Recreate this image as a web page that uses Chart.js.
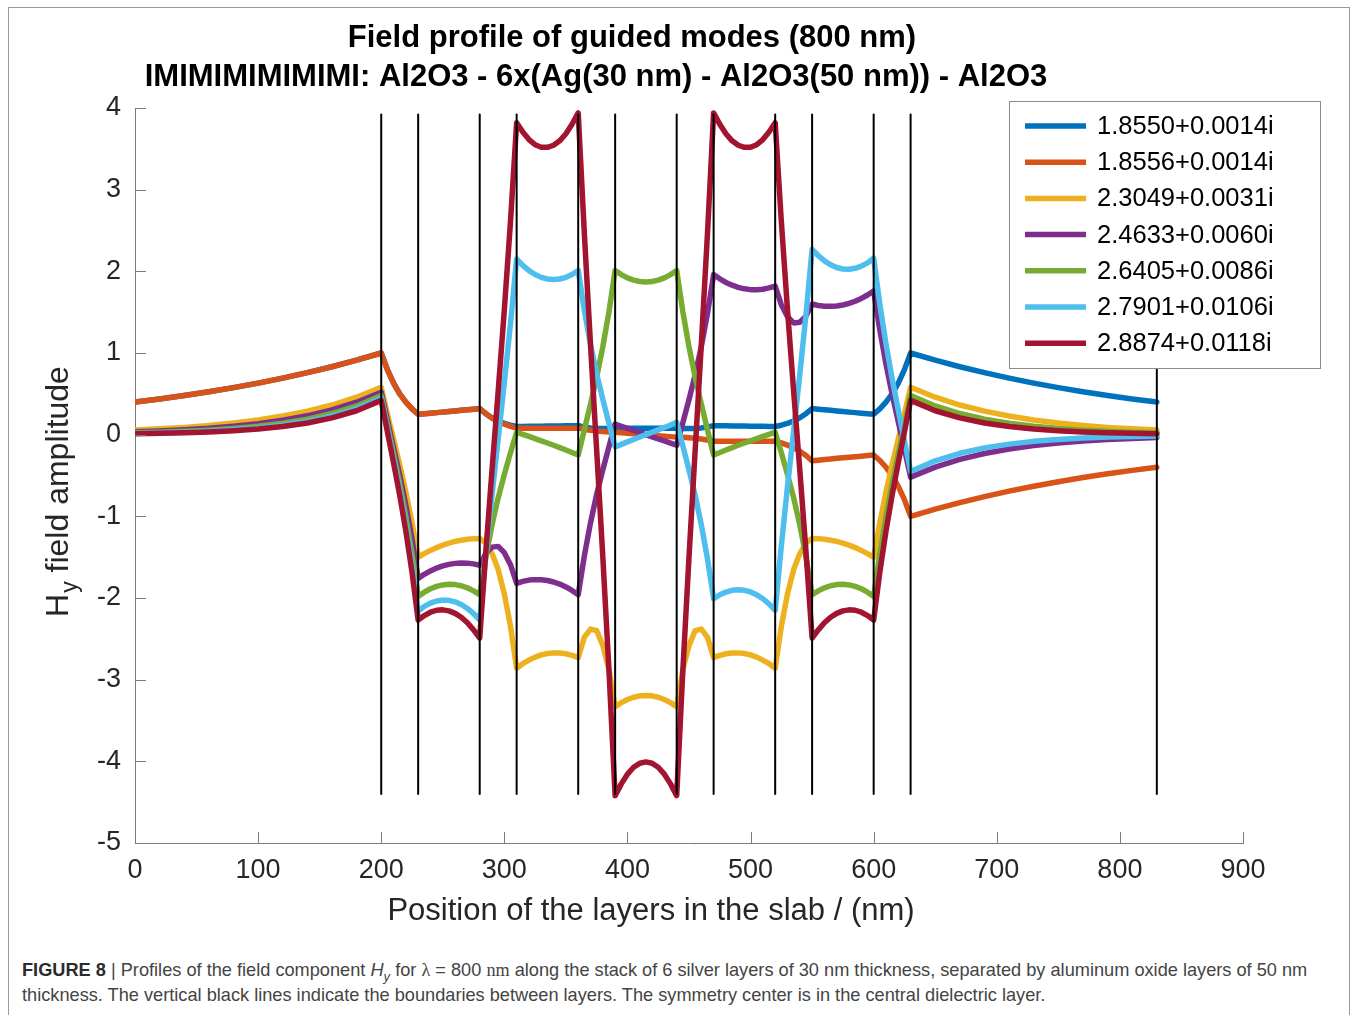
<!DOCTYPE html>
<html>
<head>
<meta charset="utf-8">
<title>Field profile of guided modes (800 nm)</title>
<script src="https://cdn.jsdelivr.net/npm/chart.js@4.4.1/dist/chart.umd.min.js"></script>
<style>
  html, body { margin: 0; padding: 0; background: #fff; }
  #figure { position: relative; width: 1357px; height: 1015px; overflow: hidden; background: #fff; }
  #frame { position: absolute; left: 8px; top: 7px; width: 1342px; height: 1100px; border: 1px solid #9a9a9a; box-sizing: border-box; }
  #plot { position: absolute; left: 0; top: 0; }
  #caption {
    position: absolute; left: 22px; top: 958px; width: 1330px;
    font-family: "Liberation Sans", Arial, sans-serif; font-size: 18.2px; line-height: 25px;
    color: #444; white-space: nowrap;
  }
  #caption b { color: #2b2b2b; }
  #caption .math { font-family: "Liberation Serif", "DejaVu Serif", serif; }
  #caption sub { font-size: 13px; line-height: 0; }
</style>
</head>
<body>
<div id="figure">
  <div id="frame"></div>
  <canvas id="plot" width="1357" height="940"></canvas>
  <div id="caption"><b>FIGURE 8</b> | Profiles of the field component <i>H<sub>y</sub></i> for <span class="math">λ</span> = 800 <span class="math">nm</span> along the stack of 6 silver layers of 30 nm thickness, separated by aluminum oxide layers of 50 nm<br>thickness. The vertical black lines indicate the boundaries between layers. The symmetry center is in the central dielectric layer.</div>
</div>
<script>
const FONT = '"Liberation Sans", Arial, Helvetica, sans-serif';
const AXIS_COLOR = '#7a7a7a';
const TEXT_COLOR = '#262626';

const titleLines = [
  'Field profile of guided modes (800 nm)',
  'IMIMIMIMIMIMI: Al2O3 - 6x(Ag(30 nm) - Al2O3(50 nm)) - Al2O3'
];
const xTitle = 'Position of the layers in the slab / (nm)';

// effective indices of the guided modes (legend)
const modeLabels = [
  '1.8550+0.0014i', '1.8556+0.0014i', '2.3049+0.0031i', '2.4633+0.0060i',
  '2.6405+0.0086i', '2.7901+0.0106i', '2.8874+0.0118i'
];
const modeColors = ['#0072BD', '#D95319', '#EDB120', '#7E2F8E', '#77AC30', '#4DBEEE', '#A2142F'];

// layer interfaces (nm) and the extent of the marker lines
const interfaces = [200, 230, 280, 310, 360, 390, 440, 470, 520, 550, 600, 630, 830];
const interfaceSpan = [-4.4, 3.92];

// sample positions along the stack (nm)
const positions = [
  0, 20, 40, 60, 80, 100, 120, 140, 160, 180,
  200, 205, 210, 215, 220, 225,
  230, 235, 240, 245, 250, 255, 260, 265, 270, 275,
  280, 285, 290, 295, 300, 305,
  310, 315, 320, 325, 330, 335, 340, 345, 350, 355,
  360, 365, 370, 375, 380, 385,
  390, 395, 400, 405, 410, 415, 420, 425, 430, 435,
  440, 445, 450, 455, 460, 465,
  470, 475, 480, 485, 490, 495, 500, 505, 510, 515,
  520, 525, 530, 535, 540, 545,
  550, 555, 560, 565, 570, 575, 580, 585, 590, 595,
  600, 605, 610, 615, 620, 625,
  630, 650, 670, 690, 710, 730, 750, 770, 790, 810, 830
];

// Hy amplitude of each mode at the sample positions
const hyMode1 = [
  0.399, 0.437, 0.479, 0.525, 0.576, 0.631, 0.692, 0.759, 0.832, 0.912,
  1.000, 0.796, 0.632, 0.500, 0.399, 0.316,
  0.250, 0.256, 0.263, 0.270, 0.276, 0.283, 0.290, 0.298, 0.305, 0.312,
  0.320, 0.257, 0.207, 0.168, 0.139, 0.116,
  0.100, 0.101, 0.102, 0.103, 0.104, 0.105, 0.106, 0.107, 0.108, 0.109,
  0.110, 0.094, 0.083, 0.076, 0.074, 0.075,
  0.080, 0.080, 0.080, 0.080, 0.080, 0.080, 0.080, 0.080, 0.080, 0.080,
  0.080, 0.075, 0.074, 0.076, 0.083, 0.094,
  0.110, 0.109, 0.108, 0.107, 0.106, 0.105, 0.104, 0.103, 0.102, 0.101,
  0.100, 0.116, 0.139, 0.168, 0.207, 0.257,
  0.320, 0.312, 0.305, 0.298, 0.290, 0.283, 0.276, 0.270, 0.263, 0.256,
  0.250, 0.316, 0.399, 0.500, 0.632, 0.796,
  1.000, 0.912, 0.832, 0.759, 0.692, 0.631, 0.576, 0.525, 0.479, 0.437, 0.399
];
const hyMode2 = [
  0.399, 0.437, 0.479, 0.525, 0.576, 0.631, 0.692, 0.759, 0.832, 0.912,
  1.000, 0.796, 0.632, 0.500, 0.399, 0.316,
  0.250, 0.256, 0.263, 0.270, 0.276, 0.283, 0.290, 0.298, 0.305, 0.312,
  0.320, 0.255, 0.202, 0.160, 0.128, 0.101,
  0.080, 0.080, 0.080, 0.080, 0.080, 0.080, 0.080, 0.080, 0.080, 0.080,
  0.080, 0.065, 0.053, 0.044, 0.038, 0.033,
  0.030, 0.024, 0.018, 0.012, 0.006, 0.000, -0.006, -0.012, -0.018, -0.024,
  -0.030, -0.033, -0.038, -0.044, -0.053, -0.065,
  -0.080, -0.080, -0.080, -0.080, -0.080, -0.080, -0.080, -0.080, -0.080, -0.080,
  -0.080, -0.101, -0.128, -0.160, -0.202, -0.255,
  -0.320, -0.312, -0.305, -0.298, -0.290, -0.283, -0.276, -0.270, -0.263, -0.256,
  -0.250, -0.316, -0.399, -0.500, -0.632, -0.796,
  -1.000, -0.912, -0.832, -0.759, -0.692, -0.631, -0.576, -0.525, -0.479, -0.437, -0.399
];
const hyMode3 = [
  0.056, 0.071, 0.089, 0.113, 0.143, 0.180, 0.228, 0.288, 0.363, 0.459,
  0.580, 0.256, -0.056, -0.368, -0.703, -1.075,
  -1.500, -1.456, -1.417, -1.383, -1.353, -1.328, -1.307, -1.292, -1.280, -1.273,
  -1.270, -1.329, -1.456, -1.652, -1.950, -2.347,
  -2.860, -2.805, -2.761, -2.724, -2.697, -2.680, -2.672, -2.673, -2.683, -2.702,
  -2.730, -2.480, -2.380, -2.400, -2.580, -2.880,
  -3.330, -3.281, -3.243, -3.215, -3.198, -3.193, -3.198, -3.215, -3.243, -3.281,
  -3.330, -2.880, -2.580, -2.400, -2.380, -2.480,
  -2.730, -2.702, -2.683, -2.673, -2.672, -2.680, -2.697, -2.724, -2.761, -2.805,
  -2.860, -2.347, -1.950, -1.652, -1.456, -1.329,
  -1.270, -1.273, -1.280, -1.292, -1.307, -1.328, -1.353, -1.383, -1.417, -1.456,
  -1.500, -1.075, -0.703, -0.368, -0.056, 0.256,
  0.580, 0.459, 0.363, 0.288, 0.228, 0.180, 0.143, 0.113, 0.089, 0.071, 0.056
];
const hyMode4 = [
  0.035, 0.046, 0.060, 0.078, 0.103, 0.134, 0.176, 0.231, 0.303, 0.397,
  0.520, 0.178, -0.157, -0.496, -0.866, -1.281,
  -1.760, -1.710, -1.668, -1.634, -1.607, -1.588, -1.576, -1.571, -1.573, -1.582,
  -1.600, -1.452, -1.377, -1.368, -1.445, -1.592,
  -1.820, -1.797, -1.781, -1.775, -1.776, -1.786, -1.804, -1.830, -1.864, -1.908,
  -1.960, -1.483, -1.080, -0.732, -0.430, -0.146,
  0.130, 0.103, 0.077, 0.051, 0.026, 0.000, -0.026, -0.051, -0.077, -0.103,
  -0.130, 0.146, 0.430, 0.732, 1.080, 1.483,
  1.960, 1.908, 1.864, 1.830, 1.804, 1.786, 1.776, 1.775, 1.781, 1.797,
  1.820, 1.592, 1.445, 1.368, 1.377, 1.452,
  1.600, 1.582, 1.573, 1.571, 1.576, 1.588, 1.607, 1.634, 1.668, 1.710,
  1.760, 1.281, 0.866, 0.496, 0.157, -0.178,
  -0.520, -0.397, -0.303, -0.231, -0.176, -0.134, -0.103, -0.078, -0.060, -0.046, -0.035
];
const hyMode5 = [
  0.022, 0.030, 0.041, 0.055, 0.075, 0.102, 0.139, 0.190, 0.259, 0.352,
  0.480, 0.120, -0.236, -0.600, -1.001, -1.455,
  -1.980, -1.929, -1.887, -1.858, -1.840, -1.833, -1.836, -1.850, -1.875, -1.913,
  -1.960, -1.496, -1.106, -0.772, -0.487, -0.222,
  0.030, 0.004, -0.022, -0.049, -0.075, -0.102, -0.130, -0.158, -0.188, -0.218,
  -0.250, 0.060, 0.375, 0.704, 1.077, 1.506,
  2.010, 1.960, 1.919, 1.892, 1.876, 1.870, 1.876, 1.892, 1.919, 1.960,
  2.010, 1.506, 1.077, 0.704, 0.375, 0.060,
  -0.250, -0.218, -0.188, -0.158, -0.130, -0.102, -0.075, -0.049, -0.022, 0.004,
  0.030, -0.222, -0.487, -0.772, -1.106, -1.496,
  -1.960, -1.913, -1.875, -1.850, -1.836, -1.833, -1.840, -1.858, -1.887, -1.929,
  -1.980, -1.455, -1.001, -0.600, -0.236, 0.120,
  0.480, 0.352, 0.259, 0.190, 0.139, 0.102, 0.075, 0.055, 0.041, 0.030, 0.022
];
const hyMode6 = [
  0.015, 0.021, 0.030, 0.042, 0.059, 0.082, 0.116, 0.162, 0.228, 0.320,
  0.450, 0.074, -0.300, -0.684, -1.111, -1.596,
  -2.160, -2.103, -2.063, -2.037, -2.026, -2.029, -2.047, -2.080, -2.128, -2.191,
  -2.270, -1.468, -0.737, -0.048, 0.638, 1.361,
  2.150, 2.072, 2.009, 1.961, 1.926, 1.906, 1.899, 1.906, 1.927, 1.961,
  2.010, 1.519, 1.103, 0.744, 0.431, 0.137,
  -0.150, -0.119, -0.088, -0.059, -0.029, 0.000, 0.029, 0.059, 0.088, 0.119,
  0.150, -0.137, -0.431, -0.744, -1.103, -1.519,
  -2.010, -1.961, -1.927, -1.906, -1.899, -1.906, -1.926, -1.961, -2.009, -2.072,
  -2.150, -1.361, -0.638, 0.048, 0.737, 1.468,
  2.270, 2.191, 2.128, 2.080, 2.047, 2.029, 2.026, 2.037, 2.063, 2.103,
  2.160, 1.596, 1.111, 0.684, 0.300, -0.074,
  -0.450, -0.320, -0.228, -0.162, -0.116, -0.082, -0.059, -0.042, -0.030, -0.021, -0.015
];
const hyMode7 = [
  0.012, 0.017, 0.024, 0.034, 0.049, 0.070, 0.100, 0.143, 0.205, 0.293,
  0.420, 0.037, -0.344, -0.740, -1.181, -1.684,
  -2.270, -2.215, -2.174, -2.150, -2.145, -2.158, -2.188, -2.236, -2.303, -2.390,
  -2.490, -1.427, -0.433, 0.532, 1.530, 2.611,
  3.820, 3.706, 3.614, 3.551, 3.520, 3.518, 3.544, 3.598, 3.685, 3.801,
  3.940, 2.462, 1.102, -0.192, -1.498, -2.889,
  -4.420, -4.276, -4.157, -4.072, -4.023, -4.007, -4.023, -4.072, -4.157, -4.276,
  -4.420, -2.889, -1.498, -0.192, 1.102, 2.462,
  3.940, 3.801, 3.685, 3.598, 3.544, 3.518, 3.520, 3.551, 3.614, 3.706,
  3.820, 2.611, 1.530, 0.532, -0.433, -1.427,
  -2.490, -2.390, -2.303, -2.236, -2.188, -2.158, -2.145, -2.150, -2.174, -2.215,
  -2.270, -1.684, -1.181, -0.740, -0.344, 0.037,
  0.420, 0.293, 0.205, 0.143, 0.100, 0.070, 0.049, 0.034, 0.024, 0.017, 0.012
];

const modeValues = [hyMode1, hyMode2, hyMode3, hyMode4, hyMode5, hyMode6, hyMode7];

// later modes are drawn on top, the interface lines above everything
const modeSets = modeValues.map((vals, i) => ({
  label: modeLabels[i],
  data: positions.map((x, k) => ({ x: x, y: vals[k] })),
  borderColor: modeColors[i],
  borderWidth: 5.5,
  order: modeValues.length - i
}));
const interfaceSets = interfaces.map(x => ({
  label: 'interface ' + x,
  data: [{ x: x, y: interfaceSpan[0] }, { x: x, y: interfaceSpan[1] }],
  borderColor: '#000',
  borderWidth: 2,
  order: 0
}));

const figureText = {
  id: 'figureText',
  afterDraw(chart) {
    const { ctx, chartArea: area, scales } = chart;
    ctx.save();

    // tick marks pointing into the plot
    ctx.strokeStyle = AXIS_COLOR;
    ctx.lineWidth = 1;
    ctx.beginPath();
    scales.x.ticks.forEach(t => {
      const px = Math.round(scales.x.getPixelForValue(t.value)) + 0.5;
      ctx.moveTo(px, area.bottom);
      ctx.lineTo(px, area.bottom - 11);
    });
    scales.y.ticks.forEach(t => {
      const py = Math.round(scales.y.getPixelForValue(t.value)) + 0.5;
      ctx.moveTo(area.left, py);
      ctx.lineTo(area.left + 11, py);
    });
    ctx.stroke();

    // two-line title
    ctx.fillStyle = '#000';
    ctx.font = 'bold 31px ' + FONT;
    ctx.textAlign = 'center';
    ctx.textBaseline = 'alphabetic';
    ctx.fillText(titleLines[0], 632, 47);
    ctx.fillText(titleLines[1], 596, 86);

    // x axis title
    ctx.fillStyle = TEXT_COLOR;
    ctx.font = '31px ' + FONT;
    ctx.fillText(xTitle, 651, 920);

    // y axis title, H with subscript y
    ctx.save();
    ctx.translate(68, 492);
    ctx.rotate(-Math.PI / 2);
    ctx.textAlign = 'left';
    const big = '32px ' + FONT, small = '23px ' + FONT;
    ctx.font = big;
    const wH = ctx.measureText('H').width;
    const wRest = ctx.measureText(' field amplitude').width;
    ctx.font = small;
    const wy = ctx.measureText('y').width;
    let x0 = -(wH + wy + wRest) / 2;
    ctx.font = big;
    ctx.fillText('H', x0, 0);
    ctx.font = small;
    ctx.fillText('y', x0 + wH + 1, 9);
    ctx.font = big;
    ctx.fillText(' field amplitude', x0 + wH + wy + 1, 0);
    ctx.restore();

    // legend box inside the axes
    const box = { x: 1009, y: 101, w: 311, h: 267 };
    ctx.fillStyle = '#fff';
    ctx.fillRect(box.x, box.y, box.w, box.h);
    ctx.strokeStyle = '#8c8c8c';
    ctx.lineWidth = 1;
    ctx.strokeRect(box.x + 0.5, box.y + 0.5, box.w, box.h);
    ctx.font = '25.5px ' + FONT;
    ctx.textAlign = 'left';
    ctx.textBaseline = 'middle';
    modeLabels.forEach((label, i) => {
      const cy = 126 + i * 36.2;
      ctx.strokeStyle = modeColors[i];
      ctx.lineWidth = 5.5;
      ctx.beginPath();
      ctx.moveTo(1025, cy);
      ctx.lineTo(1086, cy);
      ctx.stroke();
      ctx.fillStyle = '#000';
      ctx.fillText(label, 1097, cy + 1);
    });

    ctx.restore();
  }
};

new Chart(document.getElementById('plot'), {
  type: 'line',
  data: { datasets: modeSets.concat(interfaceSets) },
  options: {
    responsive: false,
    animation: false,
    devicePixelRatio: 1,
    layout: { padding: { left: 0, top: 108, right: 114, bottom: 0 } },
    elements: {
      point: { radius: 0, hoverRadius: 0 },
      line: { tension: 0, borderJoinStyle: 'round', borderCapStyle: 'round', fill: false }
    },
    plugins: {
      legend: { display: false },
      tooltip: { enabled: false },
      title: { display: false }
    },
    scales: {
      x: {
        type: 'linear',
        min: 0,
        max: 900,
        grid: { display: false, drawTicks: false },
        border: { display: true, color: AXIS_COLOR, width: 1 },
        ticks: { stepSize: 100, padding: 11, color: TEXT_COLOR, font: { family: FONT, size: 27 }, maxRotation: 0 },
        afterFit(scale) { scale.height = 97; }
      },
      y: {
        type: 'linear',
        min: -5,
        max: 4,
        grid: { display: false, drawTicks: false },
        border: { display: true, color: AXIS_COLOR, width: 1 },
        ticks: { stepSize: 1, padding: 14, color: TEXT_COLOR, font: { family: FONT, size: 27 } },
        afterFit(scale) { scale.width = 135; }
      }
    }
  },
  plugins: [figureText]
});
</script>
</body>
</html>
